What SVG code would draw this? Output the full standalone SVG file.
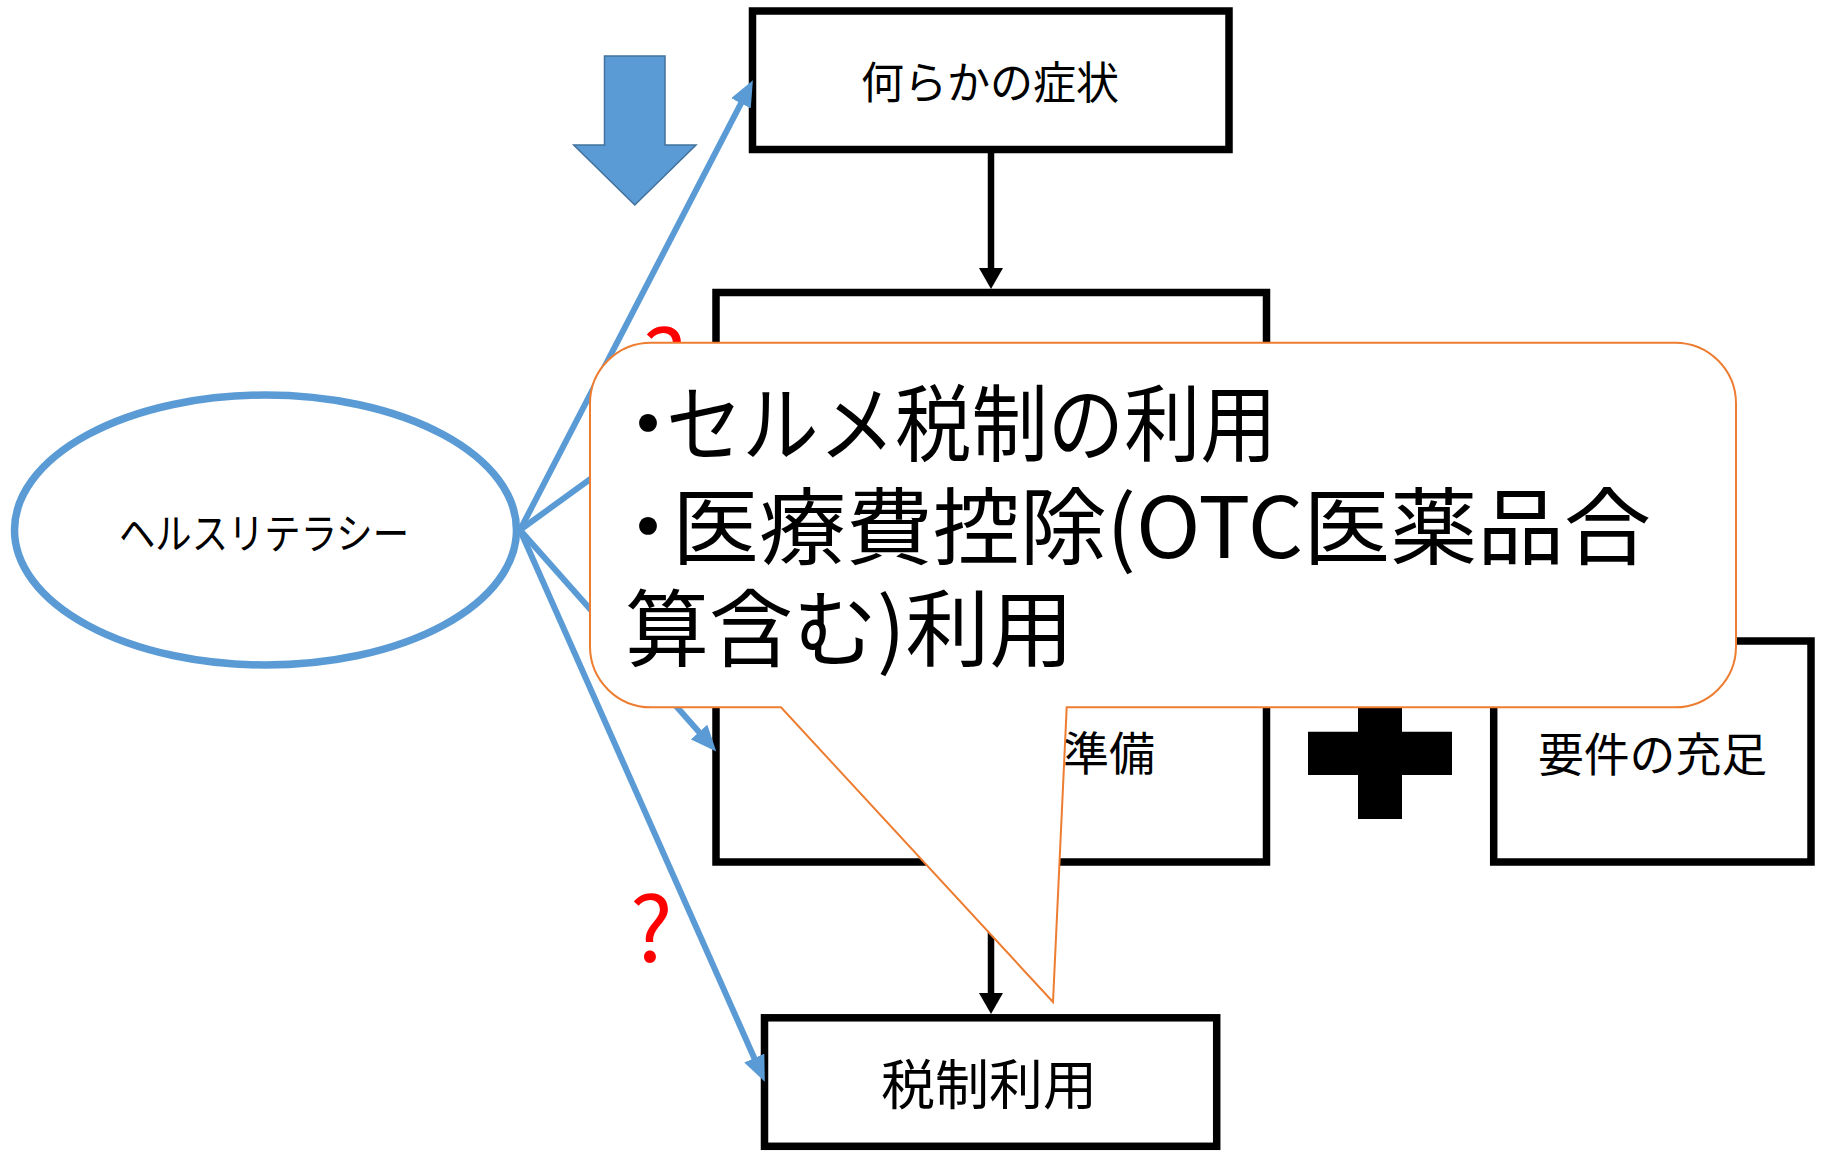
<svg xmlns="http://www.w3.org/2000/svg" width="1825" height="1154" viewBox="0 0 1825 1154">
<style>
text{font-family:"Noto Sans CJK JP","Noto Sans CJK SC",sans-serif;fill:#000}
.box{fill:#fff;stroke:#000;stroke-width:7.5}
.blue{stroke:#5B9BD5;stroke-width:6;fill:none}
.blk{stroke:#000;stroke-width:6.5;fill:none}
.q{fill:#FF0000;font-size:90px}
</style>
<defs>
<marker id="bh" markerUnits="userSpaceOnUse" markerWidth="28" markerHeight="22" refX="4" refY="11" orient="auto">
<path d="M0,0 L26,11 L0,22 Z" fill="#5B9BD5"/>
</marker>
</defs>
<rect width="1825" height="1154" fill="#fff"/>

<g id="big-arrow">
<path d="M604.5,56 H665 V145 H696 L634.8,205 L573.7,145 H604.5 Z" fill="#5B9BD5" stroke="#41719C" stroke-width="1.5"/>
</g>

<g id="box-symptom">
<rect class="box" x="752.5" y="11" width="476.5" height="138.5"/>
<text x="990" y="99" font-size="44" text-anchor="middle" textLength="258" lengthAdjust="spacingAndGlyphs">何らかの症状</text>
</g>

<g id="box-second">
<rect class="box" x="716" y="292.5" width="550.5" height="230"/>
</g>

<g id="box-prep">
<rect class="box" x="716" y="641" width="550.5" height="221"/>
<text x="1063" y="770" font-size="46">準備</text>
</g>

<g id="box-req">
<rect class="box" x="1493.7" y="641" width="317.3" height="221"/>
<text x="1652.5" y="771" font-size="46" text-anchor="middle" textLength="229" lengthAdjust="spacingAndGlyphs">要件の充足</text>
</g>

<g id="plus">
<path d="M1358,687 H1402 V731.7 H1452 V775 H1402 V819 H1358 V775 H1308 V731.7 H1358 Z" fill="#000"/>
</g>

<g id="box-tax">
<rect class="box" x="764.5" y="1017.8" width="452.2" height="128.5"/>
<text x="989" y="1105" font-size="54" text-anchor="middle">税制利用</text>
</g>

<g id="health-literacy">
<ellipse cx="265.5" cy="530" rx="251" ry="135" fill="#fff" stroke="#5B9BD5" stroke-width="7.5"/>
<text x="264" y="549" font-size="42" text-anchor="middle" textLength="290" lengthAdjust="spacingAndGlyphs">ヘルスリテラシー</text>
</g>

<g id="labels">
<text class="q" x="643" y="395">?</text>
<text class="q" x="630" y="962">?</text>
</g>

<g id="connectors">
<line class="blk" x1="991" y1="153" x2="991" y2="270"/>
<path d="M979,268 H1003 L991,289 Z" fill="#000"/>
<line class="blk" x1="991" y1="866" x2="991" y2="995"/>
<path d="M979,993 H1003 L991,1014 Z" fill="#000"/>
<line class="blue" x1="520" y1="530" x2="742.8" y2="99.8" marker-end="url(#bh)"/>
<line class="blue" x1="520" y1="530" x2="699.8" y2="399.7" marker-end="url(#bh)"/>
<line class="blue" x1="520" y1="530" x2="701.7" y2="735" marker-end="url(#bh)"/>
<line class="blue" x1="520" y1="530" x2="755.9" y2="1061.7" marker-end="url(#bh)"/>
</g>

<g id="callout">
<path d="M651,342.7 H1675 A61,61 0 0 1 1736,403.7 V646.3 A61,61 0 0 1 1675,707.3 H1066.7 L1053,1002 L781,707.3 H651 A61,61 0 0 1 590,646.3 V403.7 A61,61 0 0 1 651,342.7 Z" fill="#fff" stroke="#ED7D31" stroke-width="2"/>
<text y="455" font-size="84"><tspan x="606">・</tspan><tspan x="666" textLength="611" lengthAdjust="spacingAndGlyphs">セルメ税制の利用</tspan></text>
<text y="558" font-size="84"><tspan x="606">・</tspan><tspan x="672" textLength="979" lengthAdjust="spacingAndGlyphs">医療費控除(OTC医薬品合</tspan></text>
<text x="625" y="660" font-size="84">算含む)利用</text>
</g>
</svg>
